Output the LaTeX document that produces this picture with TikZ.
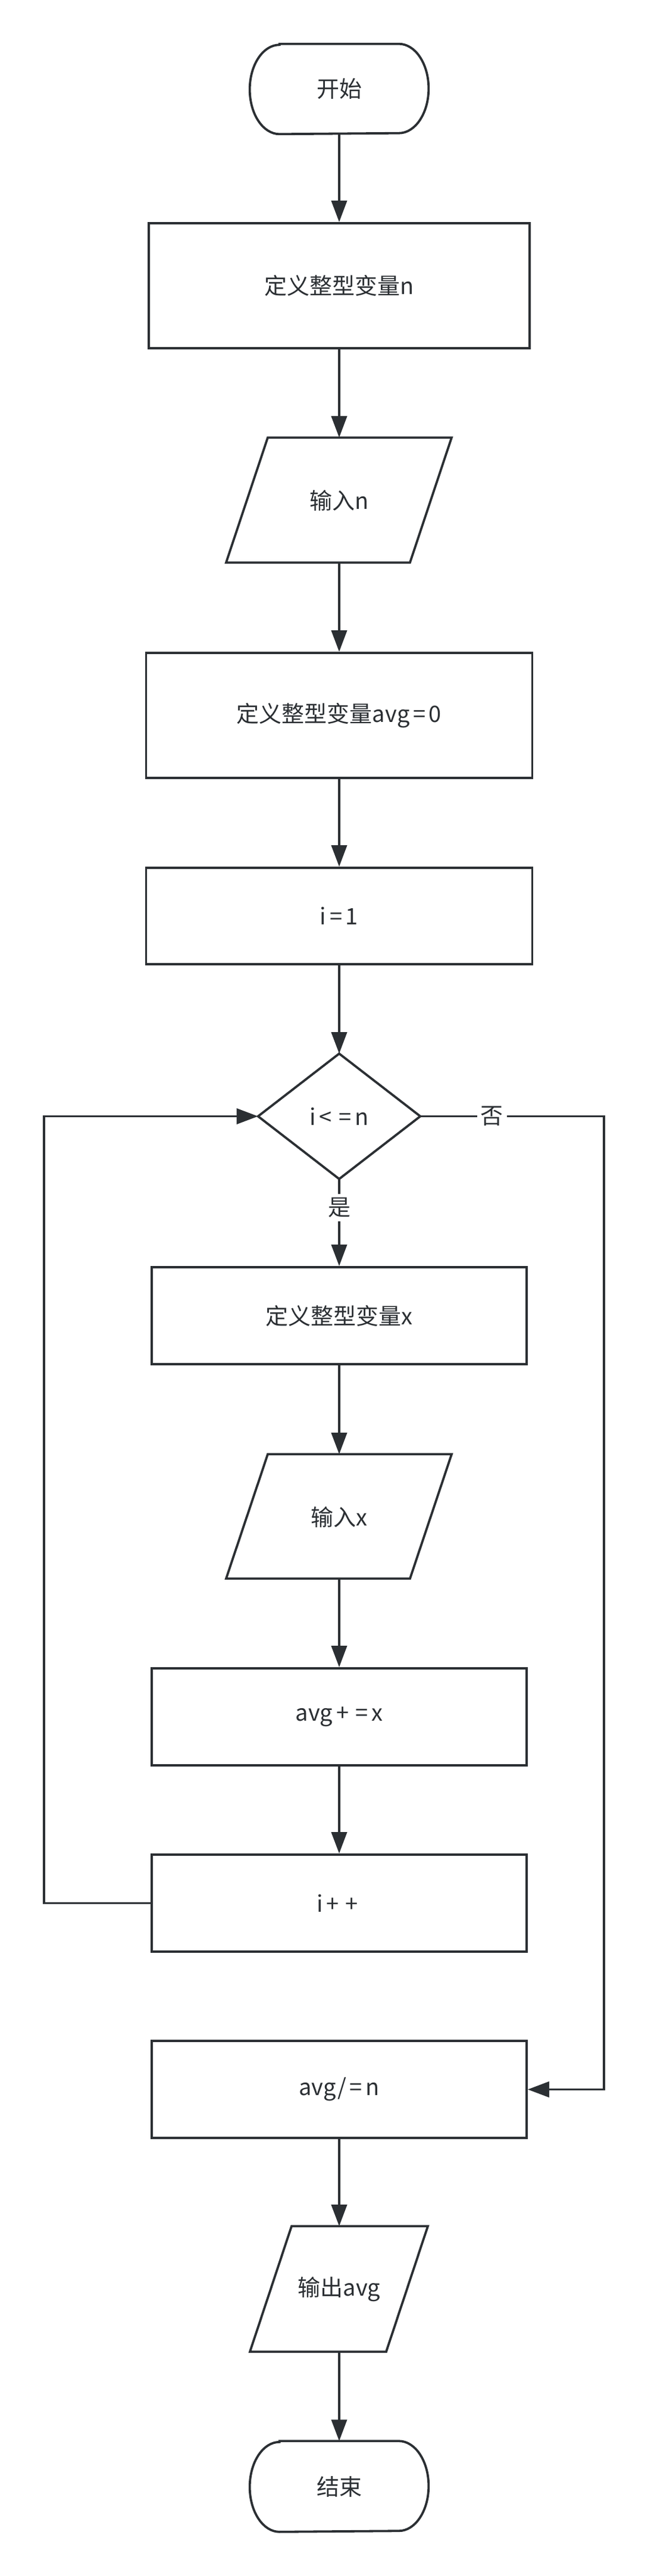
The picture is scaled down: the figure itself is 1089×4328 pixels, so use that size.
\documentclass[tikz,border=0pt]{standalone}
\usepackage{fontspec}
\setmainfont{Noto Sans CJK SC}
\usetikzlibrary{arrows.meta}
\definecolor{ink}{HTML}{2B2F33}
\newcommand\spsym[1]{\kern0.15em#1\kern0.15em}
\begin{document}
\begin{tikzpicture}[x=0.25pt,y=-0.25pt,
  every node/.style={font=\fontsize{9.5pt}{11pt}\selectfont, text=ink, inner sep=0pt},
  box/.style={draw=ink, line width=0.95pt, rectangle},
  shapeline/.style={draw=ink, line width=0.95pt, line join=miter},
  flow/.style={draw=ink, line width=0.95pt, -{Triangle[length=9pt,width=6.5pt]}},
  lbl/.style={fill=white, inner sep=1.5pt}]
\useasboundingbox[fill=white] (0,0) rectangle (1089,4328);

% start terminator
\node[minimum width=74.75pt, minimum height=37.5pt] (start) at (570,149.5) {开始};
\draw[shapeline] ([xshift=12.5pt]start.north west) -- ([xshift=-12.5pt]start.north east)
  arc[start angle=90, end angle=-90, x radius=12.5pt, y radius=18.75pt]
  -- ([xshift=12.5pt]start.south west)
  arc[start angle=270, end angle=90, x radius=12.5pt, y radius=18.75pt] -- cycle;

\node[box, minimum width=160pt, minimum height=52.5pt] (b1) at (570,480) {定义整型变量n};

\node[minimum width=77.25pt, minimum height=52.5pt] (in1) at (570,841) {输入n};
\draw[shapeline] (in1.north) ++(-120,0) -- ++(309,0) -- ++(-70,210) -- ++(-309,0) -- cycle;

\node[box, minimum width=162.25pt, minimum height=52.5pt] (b2) at (570,1202) {定义整型变量avg\spsym{=}0};
\node[box, minimum width=162.25pt, minimum height=40.5pt] (b3) at (570,1539) {i\spsym{=}1};

\node[minimum width=67.75pt, minimum height=52.25pt] (dec) at (570,1875.5) {i\spsym{<}\spsym{=}n};
\draw[shapeline] (dec.north) -- (dec.east) -- (dec.south) -- (dec.west) -- cycle;

\node[box, minimum width=157.5pt, minimum height=40.75pt] (b4) at (570,2210.5) {定义整型变量x};

\node[minimum width=77.25pt, minimum height=52.25pt] (in2) at (570,2548.5) {输入x};
\draw[shapeline] (in2.north) ++(-120,0) -- ++(309,0) -- ++(-70,209) -- ++(-309,0) -- cycle;

\node[box, minimum width=157.5pt, minimum height=40.75pt] (b5) at (570,2884.5) {avg\spsym{+}\spsym{=}x};
\node[box, minimum width=157.5pt, minimum height=40.75pt] (b6) at (570,3197.5) {i\spsym{+}\spsym{+}};
\node[box, minimum width=157.5pt, minimum height=40.75pt] (b7) at (570,3510.5) {avg/\spsym{=}n};

\node[minimum width=57.5pt, minimum height=52.75pt] (out) at (570,3846.5) {输出avg};
\draw[shapeline] (out.north) ++(-80,0) -- ++(229,0) -- ++(-70,211) -- ++(-229,0) -- cycle;

\node[minimum width=74.75pt, minimum height=37.75pt] (end) at (570,4177.5) {结束};
\draw[shapeline] ([xshift=12.5pt]end.north west) -- ([xshift=-12.5pt]end.north east)
  arc[start angle=90, end angle=-90, x radius=12.5pt, y radius=18.875pt]
  -- ([xshift=12.5pt]end.south west)
  arc[start angle=270, end angle=90, x radius=12.5pt, y radius=18.875pt] -- cycle;

% connectors
\draw[flow] (start.south) -- (b1.north);
\draw[flow] (b1.south) -- (in1.north);
\draw[flow] (in1.south) -- (b2.north);
\draw[flow] (b2.south) -- (b3.north);
\draw[flow] (b3.south) -- (dec.north);
\draw[flow] (dec.south) -- node[lbl, pos=0.33] {是} (b4.north);
\draw[flow] (b4.south) -- (in2.north);
\draw[flow] (in2.south) -- (b5.north);
\draw[flow] (b5.south) -- (b6.north);
\coordinate (lp) at (74,3197.5);
\draw[flow] (b6.west) -- (lp) |- (dec.west);
\coordinate (nr) at (1015,1875.5);
\draw[flow] (dec.east) -- node[lbl, pos=0.39] {否} (nr) |- (b7.east);
\draw[flow] (b7.south) -- (out.north);
\draw[flow] (out.south) -- (end.north);
\end{tikzpicture}
\end{document}
